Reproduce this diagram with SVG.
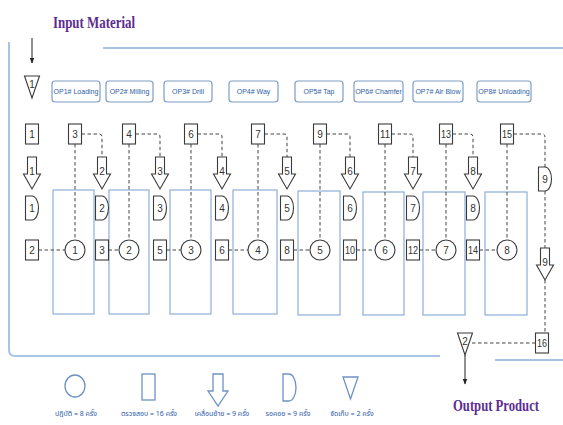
<svg xmlns="http://www.w3.org/2000/svg" xmlns:xlink="http://www.w3.org/1999/xlink" width="563" height="425" viewBox="0 0 563 425">
<style>
.bg{fill:#fff}
.frame{fill:none;stroke:#a9c3e2;stroke-width:2}
.n{fill:#fff;stroke:#3a3a3a;stroke-width:1.1}
.t{font-family:"Liberation Sans",Arial,sans-serif;font-size:10px;fill:#333;text-anchor:middle;dominant-baseline:central}
.op{fill:#fff;stroke:#7d9dc6;stroke-width:1.2}
.opt{font-family:"Liberation Sans",Arial,sans-serif;font-size:7px;fill:#2f5fa8;text-anchor:middle;dominant-baseline:central}
.m{fill:none;stroke:#8db0d8;stroke-width:1.2}
.c{fill:none;stroke:#444;stroke-width:1;stroke-dasharray:3.5,2.5}
.s{fill:none;stroke:#222;stroke-width:1}
.lg{fill:none;stroke:#6d92c4;stroke-width:1.3}
.lgt{font-family:"Noto Sans Thai","Noto Sans","DejaVu Sans",sans-serif;font-size:7px;fill:#2e5aa8;text-anchor:middle}
.title{font-family:"Liberation Serif","Times New Roman",serif;font-size:16px;font-weight:bold;fill:#5b2d91}
</style>
<defs>
<path id="tr" class="n" d="M-4.5,0 H4.5 V17 H8.5 L0,32 L-8.5,17 H-4.5 Z"/>
<path id="dl" class="n" d="M-6.5,0 H0 A6.5,12 0 0 1 0,24 H-6.5 Z"/>
<path id="st" class="n" d="M-7.5,0 H7.5 L0,22 Z"/>
<rect id="bx" class="n" x="-6.5" y="0" width="13" height="20"/>
<marker id="ah" viewBox="0 0 10 10" refX="9" refY="5" markerWidth="6" markerHeight="6" orient="auto">
<path d="M0,1 L10,5 L0,9 Z" fill="#222"/>
</marker>
</defs>
<rect class="bg" x="0" y="0" width="563" height="425"/>

<g id="frame">
<path class="frame" d="M9,42 V350 Q9,356 15,356 H440"/>
<path class="frame" d="M103,48 H563"/>
<path class="frame" d="M495,360 H563"/>
</g>

<text class="title" x="53" y="28" textLength="82" lengthAdjust="spacingAndGlyphs">Input Material</text>
<text class="title" x="453" y="411" textLength="86" lengthAdjust="spacingAndGlyphs">Output Product</text>

<g id="machines">
<rect id="m1" class="m" x="53" y="190" width="41" height="124"/>
<rect id="m2" class="m" x="109" y="190" width="40" height="124"/>
<rect id="m3" class="m" x="170" y="190" width="41" height="124"/>
<rect id="m4" class="m" x="233" y="190" width="44" height="124"/>
<rect id="m5" class="m" x="298" y="191" width="42" height="124"/>
<rect id="m6" class="m" x="363" y="192" width="41" height="123"/>
<rect id="m7" class="m" x="423" y="192" width="42" height="123"/>
<rect id="m8" class="m" x="485" y="192" width="42" height="123"/>
</g>

<g id="op-labels">
<g id="op1"><rect class="op" x="52" y="81" width="48" height="21" rx="3"/><text class="opt" x="76" y="91.5">OP1# Loading</text></g>
<g id="op2"><rect class="op" x="106" y="81" width="47" height="21" rx="3"/><text class="opt" x="129.5" y="91.5">OP2# Milling</text></g>
<g id="op3"><rect class="op" x="164" y="81" width="48" height="21" rx="3"/><text class="opt" x="188" y="91.5">OP3# Drill</text></g>
<g id="op4"><rect class="op" x="229" y="81" width="49" height="21" rx="3"/><text class="opt" x="253.5" y="91.5">OP4# Way</text></g>
<g id="op5"><rect class="op" x="295" y="81" width="48" height="21" rx="3"/><text class="opt" x="319" y="91.5">OP5# Tap</text></g>
<g id="op6"><rect class="op" x="354" y="81" width="49" height="21" rx="3"/><text class="opt" x="378.5" y="91.5">OP6# Chamfer</text></g>
<g id="op7"><rect class="op" x="413" y="81" width="50" height="21" rx="3"/><text class="opt" x="438" y="91.5">OP7# Air Blow</text></g>
<g id="op8"><rect class="op" x="477" y="81" width="54" height="21" rx="3"/><text class="opt" x="504" y="91.5">OP8# Unloading</text></g>
</g>

<g id="connectors">
<path class="s" d="M32,38 V63" marker-end="url(#ah)"/>
<path class="s" d="M465,355 V384" marker-end="url(#ah)"/>
<path class="c" d="M81.5,134 H99 Q102,134 102,137 V157"/>
<path class="c" d="M135.5,134 H157 Q160,134 160,137 V157"/>
<path class="c" d="M197.5,134 H219 Q222,134 222,137 V157"/>
<path class="c" d="M264.5,134 H284 Q287,134 287,137 V157"/>
<path class="c" d="M326.5,134 H347 Q350,134 350,137 V157"/>
<path class="c" d="M391.5,134 H410 Q413,134 413,137 V157"/>
<path class="c" d="M452.5,134 H470 Q473,134 473,137 V157"/>
<path class="c" d="M513.5,134 H542 Q545,134 545,137 V167"/>
<path class="c" d="M75,144 V240"/>
<path class="c" d="M129,144 V240"/>
<path class="c" d="M191,144 V240"/>
<path class="c" d="M258,144 V240"/>
<path class="c" d="M320,144 V240"/>
<path class="c" d="M385,144 V240"/>
<path class="c" d="M446,144 V240"/>
<path class="c" d="M507,144 V240"/>
<path class="c" d="M38.5,250 H65"/>
<path class="c" d="M108.5,250 H119"/>
<path class="c" d="M166.5,250 H181"/>
<path class="c" d="M228.5,250 H248"/>
<path class="c" d="M293.5,250 H310"/>
<path class="c" d="M356.5,250 H375"/>
<path class="c" d="M419.5,250 H436"/>
<path class="c" d="M479.5,250 H497"/>
<path class="c" d="M545,191 V248"/>
<path class="c" d="M545,280 V333"/>
<path class="c" d="M535.5,343 H470"/>
</g>

<g id="storage">
<g id="s1"><use href="#st" x="32" y="76"/><text class="t" x="32" y="84">1</text></g>
<g id="s2"><use href="#st" x="465" y="333"/><text class="t" x="465" y="341">2</text></g>
</g>

<g id="inspections">
<g id="i1"><use href="#bx" x="32" y="124"/><text class="t" x="32" y="134">1</text></g>
<g id="i3"><use href="#bx" x="75" y="124"/><text class="t" x="75" y="134">3</text></g>
<g id="i4"><use href="#bx" x="129" y="124"/><text class="t" x="129" y="134">4</text></g>
<g id="i6"><use href="#bx" x="191" y="124"/><text class="t" x="191" y="134">6</text></g>
<g id="i7"><use href="#bx" x="258" y="124"/><text class="t" x="258" y="134">7</text></g>
<g id="i9"><use href="#bx" x="320" y="124"/><text class="t" x="320" y="134">9</text></g>
<g id="i11"><use href="#bx" x="385" y="124"/><text class="t" x="385" y="134" textLength="10" lengthAdjust="spacingAndGlyphs">11</text></g>
<g id="i13"><use href="#bx" x="446" y="124"/><text class="t" x="446" y="134" textLength="10" lengthAdjust="spacingAndGlyphs">13</text></g>
<g id="i15"><use href="#bx" x="507" y="124"/><text class="t" x="507" y="134" textLength="10" lengthAdjust="spacingAndGlyphs">15</text></g>
<g id="i2"><use href="#bx" x="32" y="240"/><text class="t" x="32" y="250">2</text></g>
<g id="i3b"><use href="#bx" x="102" y="240"/><text class="t" x="102" y="250">3</text></g>
<g id="i5"><use href="#bx" x="160" y="240"/><text class="t" x="160" y="250">5</text></g>
<g id="i6b"><use href="#bx" x="222" y="240"/><text class="t" x="222" y="250">6</text></g>
<g id="i8"><use href="#bx" x="287" y="240"/><text class="t" x="287" y="250">8</text></g>
<g id="i10"><use href="#bx" x="350" y="240"/><text class="t" x="350" y="250" textLength="10" lengthAdjust="spacingAndGlyphs">10</text></g>
<g id="i12"><use href="#bx" x="413" y="240"/><text class="t" x="413" y="250" textLength="10" lengthAdjust="spacingAndGlyphs">12</text></g>
<g id="i14"><use href="#bx" x="473" y="240"/><text class="t" x="473" y="250" textLength="10" lengthAdjust="spacingAndGlyphs">14</text></g>
<g id="i16"><use href="#bx" x="542" y="333"/><text class="t" x="542" y="343" textLength="10" lengthAdjust="spacingAndGlyphs">16</text></g>
</g>

<g id="transports">
<g id="tr1"><use href="#tr" x="32" y="157"/><text class="t" x="32" y="171">1</text></g>
<g id="tr2"><use href="#tr" x="102" y="157"/><text class="t" x="102" y="171">2</text></g>
<g id="tr3"><use href="#tr" x="160" y="157"/><text class="t" x="160" y="171">3</text></g>
<g id="tr4"><use href="#tr" x="222" y="157"/><text class="t" x="222" y="171">4</text></g>
<g id="tr5"><use href="#tr" x="287" y="157"/><text class="t" x="287" y="171">5</text></g>
<g id="tr6"><use href="#tr" x="350" y="157"/><text class="t" x="350" y="171">6</text></g>
<g id="tr7"><use href="#tr" x="413" y="157"/><text class="t" x="413" y="171">7</text></g>
<g id="tr8"><use href="#tr" x="473" y="157"/><text class="t" x="473" y="171">8</text></g>
<g id="tr9"><use href="#tr" x="545" y="248"/><text class="t" x="545" y="262">9</text></g>
</g>

<g id="delays">
<g id="d1"><use href="#dl" x="32" y="196"/><text class="t" x="32" y="208">1</text></g>
<g id="d2"><use href="#dl" x="102" y="196"/><text class="t" x="102" y="208">2</text></g>
<g id="d3"><use href="#dl" x="160" y="196"/><text class="t" x="160" y="208">3</text></g>
<g id="d4"><use href="#dl" x="222" y="196"/><text class="t" x="222" y="208">4</text></g>
<g id="d5"><use href="#dl" x="287" y="196"/><text class="t" x="287" y="208">5</text></g>
<g id="d6"><use href="#dl" x="350" y="196"/><text class="t" x="350" y="208">6</text></g>
<g id="d7"><use href="#dl" x="413" y="196"/><text class="t" x="413" y="208">7</text></g>
<g id="d8"><use href="#dl" x="473" y="196"/><text class="t" x="473" y="208">8</text></g>
<g id="d9"><use href="#dl" x="545" y="167"/><text class="t" x="545" y="179">9</text></g>
</g>

<g id="operations">
<g id="o1"><circle class="n" cx="75" cy="250" r="10"/><text class="t" x="75" y="250">1</text></g>
<g id="o2"><circle class="n" cx="129" cy="250" r="10"/><text class="t" x="129" y="250">2</text></g>
<g id="o3"><circle class="n" cx="191" cy="250" r="10"/><text class="t" x="191" y="250">3</text></g>
<g id="o4"><circle class="n" cx="258" cy="250" r="10"/><text class="t" x="258" y="250">4</text></g>
<g id="o5"><circle class="n" cx="320" cy="250" r="10"/><text class="t" x="320" y="250">5</text></g>
<g id="o6"><circle class="n" cx="385" cy="250" r="10"/><text class="t" x="385" y="250">6</text></g>
<g id="o7"><circle class="n" cx="446" cy="250" r="10"/><text class="t" x="446" y="250">7</text></g>
<g id="o8"><circle class="n" cx="507" cy="250" r="10"/><text class="t" x="507" y="250">8</text></g>
</g>

<g id="legend">
<g id="lg-op"><ellipse class="lg" cx="75" cy="386" rx="10" ry="11"/><text class="lgt" x="76" y="416">ปฏิบัติ = 8 ครั้ง</text></g>
<g id="lg-insp"><rect class="lg" x="142" y="374" width="13" height="26"/><text class="lgt" x="149" y="416">ตรวจสอบ = 16 ครั้ง</text></g>
<g id="lg-tr"><path class="lg" d="M213,374 H223 V391 H228 L218,406 L208,391 H213 Z"/><text class="lgt" x="222" y="416">เคลื่อนย้าย = 9 ครั้ง</text></g>
<g id="lg-dl"><path class="lg" d="M283,374 H289 A7,13.5 0 0 1 289,401 H283 Z"/><text class="lgt" x="288" y="416">รอคอย = 9 ครั้ง</text></g>
<g id="lg-st"><path class="lg" d="M343,377 H358 L350.5,399 Z"/><text class="lgt" x="352" y="416">จัดเก็บ = 2 ครั้ง</text></g>
</g>
</svg>
